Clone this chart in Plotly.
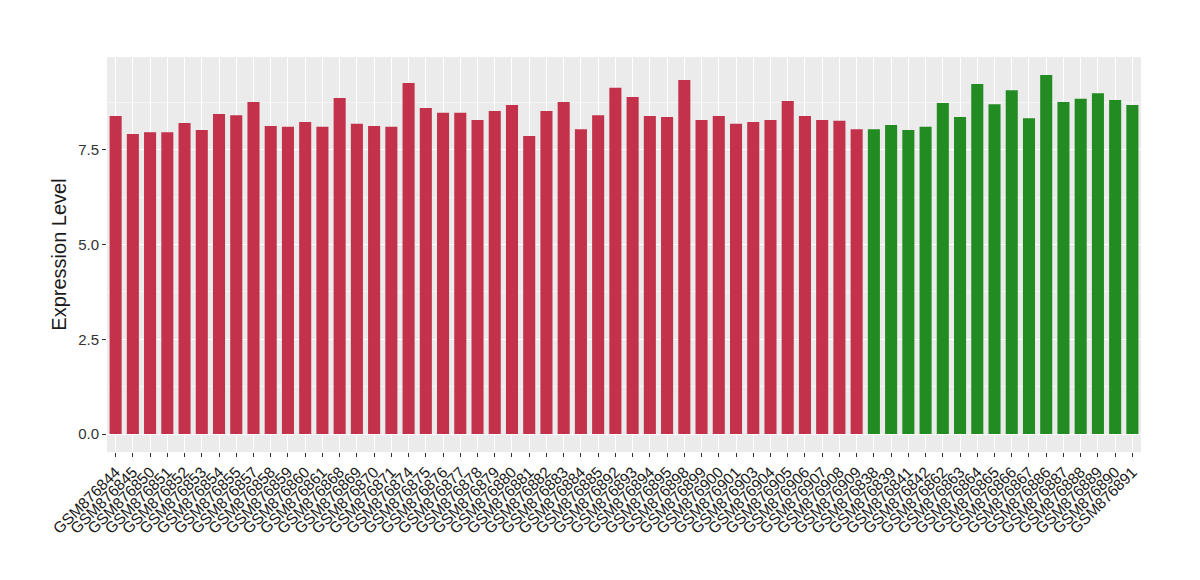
import plotly.graph_objects as go

red_samples = ["GSM876844", "GSM876845", "GSM876850", "GSM876851", "GSM876852", "GSM876853",
               "GSM876854", "GSM876855", "GSM876857", "GSM876858", "GSM876859", "GSM876860",
               "GSM876861", "GSM876868", "GSM876869", "GSM876870", "GSM876871", "GSM876874",
               "GSM876875", "GSM876876", "GSM876877", "GSM876878", "GSM876879", "GSM876880",
               "GSM876881", "GSM876882", "GSM876883", "GSM876884", "GSM876885", "GSM876892",
               "GSM876893", "GSM876894", "GSM876895", "GSM876898", "GSM876899", "GSM876900",
               "GSM876901", "GSM876903", "GSM876904", "GSM876905", "GSM876906", "GSM876907",
               "GSM876908", "GSM876909"]
red_values = [8.40, 7.92, 7.97, 7.97, 8.21, 8.03, 8.45, 8.42, 8.77, 8.13, 8.11, 8.24,
              8.11, 8.87, 8.19, 8.13, 8.11, 9.27, 8.61, 8.48, 8.48, 8.29, 8.53, 8.69,
              7.87, 8.53, 8.77, 8.05, 8.42, 9.14, 8.90, 8.40, 8.37, 9.35, 8.29, 8.40,
              8.19, 8.24, 8.29, 8.79, 8.40, 8.29, 8.27, 8.05]

green_samples = ["GSM876838", "GSM876839", "GSM876841", "GSM876842", "GSM876862", "GSM876863",
                 "GSM876864", "GSM876865", "GSM876866", "GSM876867", "GSM876886", "GSM876887",
                 "GSM876888", "GSM876889", "GSM876890", "GSM876891"]
green_values = [8.05, 8.16, 8.03, 8.11, 8.74, 8.37, 9.24, 8.71, 9.08, 8.34, 9.48, 8.77,
                8.85, 9.00, 8.82, 8.69]

y_ticks = [0.0, 2.5, 5.0, 7.5]
y_tick_labels = ["0.0", "2.5", "5.0", "7.5"]

RED = "#C3314A"
GREEN = "#228B22"

all_samples = red_samples + green_samples

fig = go.Figure()
fig.add_trace(go.Bar(x=red_samples, y=red_values, marker_color=RED, marker_line_width=0,
                     showlegend=False))
fig.add_trace(go.Bar(x=green_samples, y=green_values, marker_color=GREEN, marker_line_width=0,
                     showlegend=False))

fig.update_layout(
    width=1200, height=580,
    margin=dict(l=99, r=67, t=49, b=136, autoexpand=False),
    paper_bgcolor="white",
    plot_bgcolor="#EBEBEB",
    bargap=0.3,
    font=dict(family="Liberation Sans, Arial, sans-serif", color="#1A1A1A"),
    xaxis=dict(
        type="category",
        categoryorder="array",
        categoryarray=all_samples,
        tickmode="array",
        tickvals=all_samples,
        ticktext=all_samples,
        tickangle=-45,
        tickfont=dict(size=15.5, color="#1A1A1A"),
        showgrid=True, gridcolor="white", gridwidth=1.3,
        ticks="outside", ticklen=4, tickcolor="#333333",
        zeroline=False, showline=False, automargin=False,
    ),
    yaxis=dict(
        range=[-0.475, 9.955],
        tickvals=y_ticks, ticktext=y_tick_labels,
        tickfont=dict(size=15, color="#333333"),
        title=dict(text="Expression Level", font=dict(size=20, color="#1A1A1A"), standoff=6),
        showgrid=True, gridcolor="white", gridwidth=1.3,
        minor=dict(tickvals=[1.25, 3.75, 6.25, 8.75], showgrid=True, gridcolor="#F5F5F5", gridwidth=0.7),
        ticks="outside", ticklen=4, tickcolor="#333333",
        zeroline=False, showline=False, automargin=False,
    ),
)

fig.write_html("out.html")
